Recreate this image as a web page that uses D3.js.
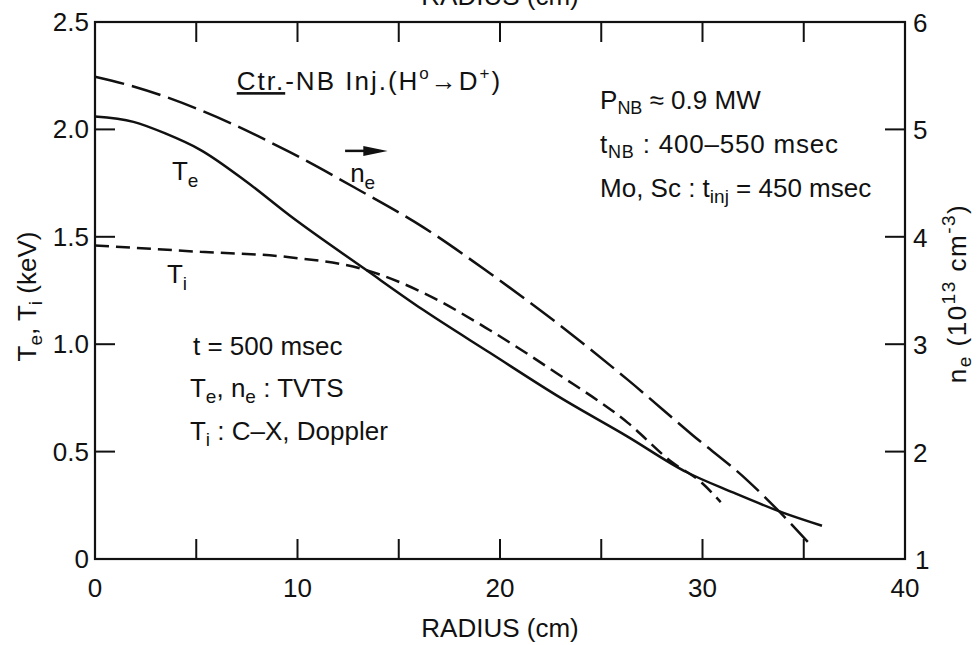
<!DOCTYPE html>
<html>
<head>
<meta charset="utf-8">
<script src="https://cdn.jsdelivr.net/npm/d3@7"></script>
<style>
  body { margin: 0; background: #fff; }
  svg { display: block; font-family: "Liberation Sans", Arial, sans-serif; }
  text { fill: #111; }
</style>
</head>
<body>
<div id="chart"></div>
<script>
// radius (cm) and profiles
var teRadius = [0, 1.9, 3.5, 5.2, 7.5, 9.6, 13.4, 16.2, 19.5, 23.0, 26.3, 29.2, 31.5, 34.0, 35.9];
var teValues = [2.06, 2.035, 1.98, 1.905, 1.755, 1.60, 1.345, 1.16, 0.96, 0.75, 0.57, 0.405, 0.31, 0.215, 0.155];

var tiRadius = [0, 5.2, 9.6, 13.4, 16.2, 19.5, 22.8, 26.3, 28.5, 29.9, 30.9];
var tiValues = [1.46, 1.43, 1.405, 1.345, 1.24, 1.065, 0.865, 0.635, 0.45, 0.36, 0.265];

var neRadius = [0, 1.9, 5.2, 9.6, 12.9, 16.2, 19.5, 22.8, 26.3, 29.5, 32.2, 33.8, 35.2];
var neValues = [5.49, 5.40, 5.18, 4.79, 4.45, 4.09, 3.66, 3.20, 2.67, 2.155, 1.735, 1.44, 1.16];

var xTicks = [5, 10, 15, 20, 25, 30, 35];
var xTickLabels = [0, 10, 20, 30, 40];
var tTicks = [0.5, 1.0, 1.5, 2.0];
var tTickLabels = [0, 0.5, 1.0, 1.5, 2.0, 2.5];
var nTicks = [2, 3, 4, 5];
var nTickLabels = [1, 2, 3, 4, 5, 6];

var width = 980, height = 645;
var margin = {top: 22, right: 75, bottom: 86, left: 95};
var fs = 26;

var svg = d3.select("#chart").append("svg")
    .attr("width", width)
    .attr("height", height);

var x = d3.scaleLinear().domain([0, 40]).range([margin.left, width - margin.right]);
var yT = d3.scaleLinear().domain([0, 2.5]).range([height - margin.bottom, margin.top]);
var yN = d3.scaleLinear().domain([1, 6]).range([height - margin.bottom, margin.top]);

var x0 = x(0), x1 = x(40), y0 = yT(0), y1 = yT(2.5);
var tickLen = 20;

// frame
svg.append("rect")
    .attr("x", x0).attr("y", y1)
    .attr("width", x1 - x0).attr("height", y0 - y1)
    .attr("fill", "none").attr("stroke", "#111").attr("stroke-width", 2.2);

// inward ticks
var ticks = svg.append("g").attr("stroke", "#111").attr("stroke-width", 2);
xTicks.forEach(function(d) {
    ticks.append("line").attr("x1", x(d)).attr("x2", x(d)).attr("y1", y0).attr("y2", y0 - tickLen);
    ticks.append("line").attr("x1", x(d)).attr("x2", x(d)).attr("y1", y1).attr("y2", y1 + tickLen);
});
tTicks.forEach(function(d) {
    ticks.append("line").attr("x1", x0).attr("x2", x0 + tickLen).attr("y1", yT(d)).attr("y2", yT(d));
});
nTicks.forEach(function(d) {
    ticks.append("line").attr("x1", x1).attr("x2", x1 - tickLen).attr("y1", yN(d)).attr("y2", yN(d));
});

// tick labels
svg.selectAll(".xl").data(xTickLabels).enter().append("text")
    .attr("x", function(d) { return x(d); })
    .attr("y", y0 + 38)
    .attr("text-anchor", "middle")
    .attr("font-size", fs)
    .text(function(d) { return d; });

svg.selectAll(".tl").data(tTickLabels).enter().append("text")
    .attr("x", x0 - 6)
    .attr("y", function(d) { return yT(d) + 9; })
    .attr("text-anchor", "end")
    .attr("font-size", fs)
    .text(function(d) { return d === 0 ? "0" : d3.format(".1f")(d); });

svg.selectAll(".nl").data(nTickLabels).enter().append("text")
    .attr("x", function(d) { return d === 1 ? x1 + 10 : x1 + 8; })
    .attr("y", function(d) { return yN(d) + 10; })
    .attr("text-anchor", "start")
    .attr("font-size", fs)
    .text(function(d) { return d; });

// axis titles
svg.append("text")
    .attr("x", (x0 + x1) / 2).attr("y", height - 8)
    .attr("text-anchor", "middle").attr("font-size", fs)
    .text("RADIUS (cm)");

// same title repeated at the top, cut off by the page edge in the original
svg.append("text")
    .attr("x", (x0 + x1) / 2).attr("y", 5)
    .attr("text-anchor", "middle").attr("font-size", fs)
    .text("RADIUS (cm)");

var lt = svg.append("text")
    .attr("transform", "translate(36," + ((y0 + y1) / 2 + 6) + ") rotate(-90)")
    .attr("text-anchor", "middle").attr("font-size", fs);
lt.append("tspan").text("T");
lt.append("tspan").attr("font-size", 19).attr("dy", 6).text("e");
lt.append("tspan").attr("dy", -6).text(", T");
lt.append("tspan").attr("font-size", 19).attr("dy", 6).text("i");
lt.append("tspan").attr("dy", -6).text(" (keV)");

var rt = svg.append("text")
    .attr("transform", "translate(966," + ((y0 + y1) / 2 + 3) + ") rotate(-90)")
    .attr("text-anchor", "middle").attr("font-size", fs)
    .attr("letter-spacing", 1.5);
rt.append("tspan").text("n");
rt.append("tspan").attr("font-size", 19).attr("dy", 5).text("e");
rt.append("tspan").attr("dy", -5).text(" (10");
rt.append("tspan").attr("font-size", 19).attr("dy", -11).text("13");
rt.append("tspan").attr("dy", 11).text(" cm");
rt.append("tspan").attr("font-size", 19).attr("dy", -11).text("-3");
rt.append("tspan").attr("dy", 11).text(")");

// profiles
var lineT = d3.line()
    .x(function(d) { return x(d[0]); })
    .y(function(d) { return yT(d[1]); })
    .curve(d3.curveMonotoneX);
var lineN = d3.line()
    .x(function(d) { return x(d[0]); })
    .y(function(d) { return yN(d[1]); })
    .curve(d3.curveMonotoneX);

svg.append("path")
    .datum(d3.zip(teRadius, teValues))
    .attr("d", lineT)
    .attr("fill", "none").attr("stroke", "#111").attr("stroke-width", 2.5);

svg.append("path")
    .datum(d3.zip(tiRadius, tiValues))
    .attr("d", lineT)
    .attr("fill", "none").attr("stroke", "#111").attr("stroke-width", 2.5)
    .attr("stroke-dasharray", "14,7");

svg.append("path")
    .datum(d3.zip(neRadius, neValues))
    .attr("d", lineN)
    .attr("fill", "none").attr("stroke", "#111").attr("stroke-width", 2.5)
    .attr("stroke-dasharray", "30,8");

// curve labels
function subLabel(r, t, main, sub) {
    var el = svg.append("text").attr("x", x(r)).attr("y", yT(t)).attr("font-size", fs);
    el.append("tspan").text(main);
    el.append("tspan").attr("font-size", 19).attr("dy", 7).text(sub);
    return el;
}
subLabel(3.8, 1.765, "T", "e");
subLabel(3.55, 1.285, "T", "i");
subLabel(12.6, 1.755, "n", "e");

// arrow over n_e
var ay = yT(1.9);
svg.append("line")
    .attr("x1", x(12.35)).attr("x2", x(13.8)).attr("y1", ay).attr("y2", ay)
    .attr("stroke", "#111").attr("stroke-width", 2.5);
svg.append("path")
    .attr("d", "M" + x(14.45) + "," + ay + "L" + x(13.25) + "," + (ay - 5) + "L" + x(13.25) + "," + (ay + 5) + "Z")
    .attr("fill", "#111");

// annotation blocks
var ctr = svg.append("text").attr("x", x(7.0)).attr("y", yT(2.183)).attr("font-size", fs)
    .attr("letter-spacing", 2);
ctr.append("tspan").attr("text-decoration", "underline").text("Ctr.");
ctr.append("tspan").text("-NB  Inj.(H");
ctr.append("tspan").attr("font-size", 17).attr("dy", -11).text("o");
ctr.append("tspan").attr("dy", 11).text("\u2192D");
ctr.append("tspan").attr("font-size", 17).attr("dy", -11).text("+");
ctr.append("tspan").attr("dy", 11).text(")");

var p1 = svg.append("text").attr("x", x(24.94)).attr("y", yT(2.095)).attr("font-size", fs);
p1.append("tspan").text("P");
p1.append("tspan").attr("font-size", 18).attr("dy", 5).text("NB");
p1.append("tspan").attr("dy", -5).text(" \u2248 0.9 MW");

var p2 = svg.append("text").attr("x", x(24.94)).attr("y", yT(1.89)).attr("font-size", fs)
    .attr("letter-spacing", 0.8);
p2.append("tspan").text("t");
p2.append("tspan").attr("font-size", 18).attr("dy", 5).text("NB");
p2.append("tspan").attr("dy", -5).text(" : 400\u2013550 msec");

var p3 = svg.append("text").attr("x", x(24.94)).attr("y", yT(1.685)).attr("font-size", fs);
p3.append("tspan").text("Mo, Sc : t");
p3.append("tspan").attr("font-size", 19).attr("dy", 6).text("inj");
p3.append("tspan").attr("dy", -6).text(" = 450 msec");

svg.append("text").attr("x", x(4.84)).attr("y", yT(0.95)).attr("font-size", fs)
    .text("t = 500 msec");

var q2 = svg.append("text").attr("x", x(4.69)).attr("y", yT(0.754)).attr("font-size", fs);
q2.append("tspan").text("T");
q2.append("tspan").attr("font-size", 19).attr("dy", 6).text("e");
q2.append("tspan").attr("dy", -6).text(", n");
q2.append("tspan").attr("font-size", 19).attr("dy", 6).text("e");
q2.append("tspan").attr("dy", -6).text(" : TVTS");

var q3 = svg.append("text").attr("x", x(4.69)).attr("y", yT(0.554)).attr("font-size", fs);
q3.append("tspan").text("T");
q3.append("tspan").attr("font-size", 19).attr("dy", 6).text("i");
q3.append("tspan").attr("dy", -6).text(" : C\u2013X, Doppler");
</script>
</body>
</html>
